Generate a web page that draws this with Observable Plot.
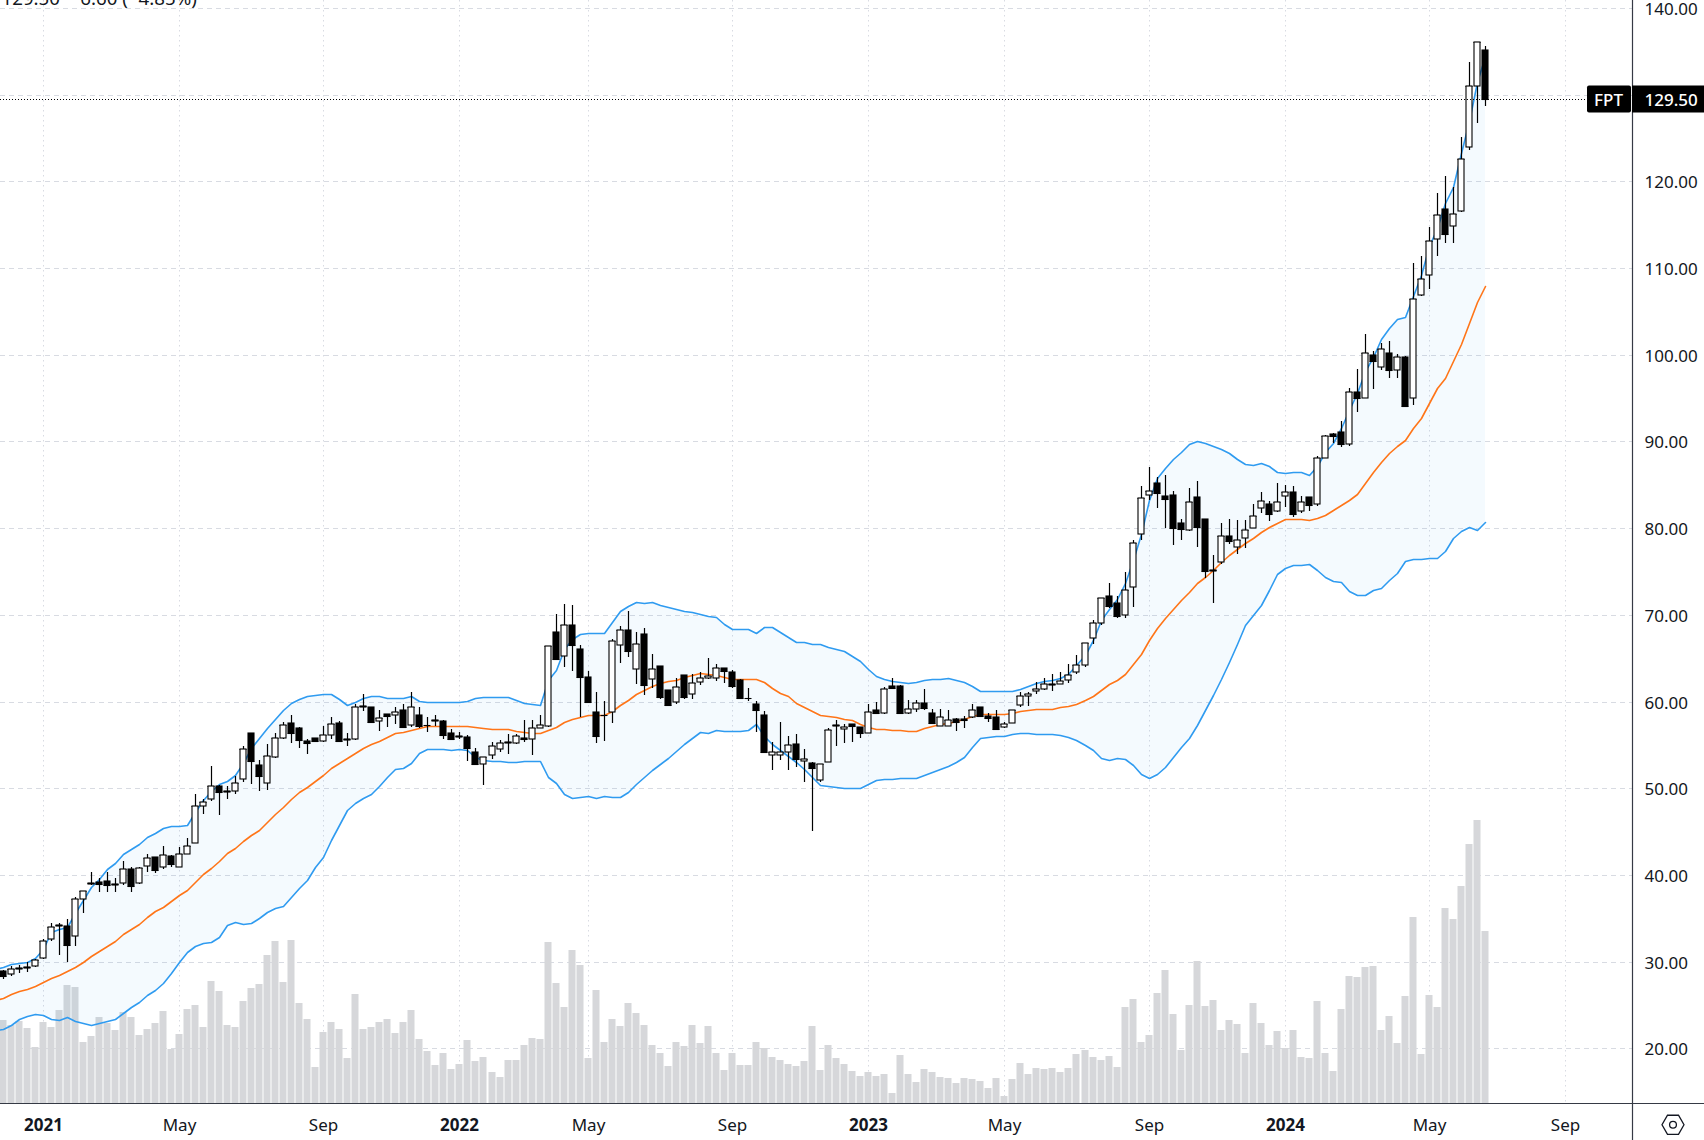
<!DOCTYPE html>
<html>
<head>
<meta charset="utf-8">
<script src="https://cdn.jsdelivr.net/npm/d3@7"></script>
<script src="https://cdn.jsdelivr.net/npm/@observablehq/plot@0.6"></script>
<style>html,body{margin:0;padding:0;background:#fff;overflow:hidden}</style>
</head>
<body>
<div id="chart"></div>
<script>
const open = [28.96,28.54,29.2,29.23,29.54,30.38,32.58,34.1,34.08,32.92,37.19,38.92,39.15,39.27,38.81,39.12,40.65,39.04,41.0,42.04,40.88,42.19,40.88,42.38,43.73,47.92,48.73,50.23,49.54,49.65,51.04,56.35,52.65,50.58,53.58,55.77,57.5,56.92,55.46,55.77,55.42,56.12,57.5,55.6,55.73,59.4,59.35,57.73,58.58,58.5,59.0,57.27,58.46,57.3,
57.73,57.8,56.42,55.9,55.88,54.23,52.85,53.88,54.58,55.25,55.27,55.85,55.73,57.0,57.19,68.0,65.27,68.88,66.04,62.88,58.85,58.4,58.85,66.58,68.31,63.81,67.85,62.62,64.15,61.38,60.0,63.12,60.92,62.31,62.77,62.77,63.85,63.46,62.46,60.38,59.77,58.42,53.88,53.88,54.19,55.08,53.19,52.88,51.0,53.04,57.2,56.88,57.46,57.04,
56.42,59.08,58.73,61.77,61.77,58.73,59.19,59.88,58.73,57.23,57.23,58.0,58.04,58.23,59.42,58.38,58.27,57.08,57.58,59.62,60.69,61.27,61.5,61.95,62.08,62.46,63.46,64.27,67.38,69.12,72.23,71.35,70.04,73.27,79.38,83.77,85.15,83.69,83.77,80.65,79.73,83.54,81.0,75.08,76.15,79.04,77.77,78.92,79.96,82.38,82.77,81.92,83.65,
84.17,82.02,83.55,82.76,88.08,90.85,91.05,89.65,95.75,95.01,99.96,98.56,100.21,98.23,99.71,95.01,106.85,109.2,113.36,116.83,114.85,116.54,124.0,130.97,135.09];
const close = [28.35,29.12,29.23,29.42,30.15,32.35,33.96,34.2,31.96,37.19,38.12,39.12,38.92,38.81,39.0,40.73,38.77,40.77,41.92,40.62,42.35,41.31,42.38,43.31,47.92,48.38,50.23,49.54,49.73,50.58,54.5,53.19,51.46,53.69,55.77,57.27,56.35,55.62,55.19,55.42,56.12,57.38,55.5,55.65,59.35,59.45,57.69,58.08,58.38,58.77,57.12,59.35,57.23,57.25,
57.85,56.15,55.7,56.0,54.65,52.81,53.62,54.92,55.27,55.3,56.08,55.7,56.96,57.35,66.46,64.92,68.88,66.54,62.85,59.96,56.04,58.45,67.04,68.31,65.85,66.69,61.88,63.81,60.54,59.62,61.69,60.54,62.19,62.77,62.96,63.88,63.54,61.77,60.42,60.42,59.04,54.19,54.23,54.23,55.04,53.42,53.42,52.35,52.85,56.77,57.25,57.12,57.19,56.38,
58.85,58.73,61.5,61.58,58.69,59.19,59.85,59.27,57.54,58.23,57.88,57.65,57.88,59.08,58.35,58.12,56.85,57.46,59.08,60.69,60.92,61.46,62.08,62.0,62.42,63.12,64.23,66.81,69.12,72.0,71.04,69.88,72.92,78.23,83.42,84.23,84.08,83.38,80.04,79.92,82.96,80.15,75.08,75.12,79.04,78.54,78.69,79.73,81.35,83.08,81.65,82.96,84.12,
81.65,83.05,82.72,88.08,90.6,90.64,89.65,95.67,95.01,100.21,99.22,100.66,98.23,99.71,94.06,106.43,108.74,113.11,116.12,113.9,116.25,122.6,130.97,136.08,129.5];
const high = [29.0,29.54,29.58,29.96,30.35,32.58,34.42,34.42,34.88,37.5,38.12,40.31,39.62,40.31,39.62,41.58,40.88,40.96,42.38,42.12,43.35,42.35,43.27,44.27,49.35,48.81,52.58,50.38,50.27,51.42,54.88,56.35,53.27,55.08,56.38,57.62,58.46,57.04,55.65,55.85,57.19,58.19,57.73,56.35,59.69,60.9,59.35,59.04,58.6,59.35,59.73,61.1,59.35,58.19,
58.42,57.92,56.88,56.46,56.12,54.69,53.62,55.38,55.62,56.31,56.31,57.85,57.92,58.42,66.46,70.08,71.23,71.12,66.5,63.5,61.08,60.04,67.19,68.77,70.5,68.0,68.54,65.46,64.15,61.38,62.77,63.12,63.23,63.46,65.08,64.38,63.85,63.62,62.58,61.54,60.12,58.88,55.38,57.62,56.0,56.31,54.5,53.04,52.85,57.0,57.92,57.38,57.46,57.1,
59.77,59.92,61.69,62.77,61.96,60.15,60.15,61.42,59.19,59.19,59.08,58.15,58.31,59.77,59.42,58.69,59.08,57.69,59.08,61.12,61.12,62.31,62.69,63.23,63.46,64.38,65.35,66.81,69.38,72.0,73.62,72.23,75.0,78.58,84.85,87.04,85.85,86.12,84.27,81.04,84.62,85.42,81.0,76.96,80.54,81.04,80.92,80.92,82.77,84.15,83.12,85.15,84.92,
84.83,83.67,83.55,88.29,90.76,91.01,92.33,96.2,98.39,102.43,100.37,101.4,101.61,100.08,99.88,110.6,111.42,114.76,118.6,120.62,119.34,125.15,133.77,136.08,135.55];
const low = [28.04,28.38,28.73,28.85,29.42,30.27,32.42,30.77,30.0,31.8,35.65,38.85,38.08,38.08,38.08,38.88,38.08,38.92,40.38,40.23,40.73,40.96,40.88,42.38,43.65,47.04,48.5,46.96,48.81,49.38,50.77,50.5,49.73,49.85,53.54,55.73,55.27,54.69,54.0,55.3,55.35,55.73,55.5,54.92,55.54,58.96,57.69,56.65,57.12,57.38,57.04,57.04,56.92,56.54,
57.15,55.7,55.7,55.7,53.12,52.81,50.38,53.38,54.19,53.96,55.15,55.35,53.85,56.96,57.08,64.92,63.96,63.54,58.23,59.96,55.23,55.46,57.54,64.42,65.12,62.04,60.77,61.54,60.27,59.62,59.73,60.31,60.31,61.88,62.62,62.35,62.19,61.62,60.42,60.12,56.5,54.19,52.12,53.23,52.12,52.46,50.73,45.08,50.73,53.04,54.88,55.23,55.35,55.85,
56.38,58.73,58.6,61.58,58.69,58.54,58.81,59.04,57.54,57.19,57.19,56.62,56.96,58.12,58.31,57.65,56.85,56.92,57.58,59.38,59.5,60.92,61.38,61.23,62.04,62.15,63.15,64.0,66.62,68.81,70.81,69.65,69.65,70.88,78.62,83.23,82.31,80.0,78.04,78.62,79.69,77.85,74.27,71.38,75.92,78.15,77.0,77.73,79.96,81.77,80.85,81.88,82.46,
81.32,81.77,81.94,82.52,88.08,89.86,89.36,89.44,93.44,95.01,96.04,98.23,97.28,97.28,94.06,94.15,106.76,107.55,111.38,112.87,112.87,116.45,123.63,126.72,128.62];
// volume bars, expressed on the price axis they are drawn against
const volume = [23.3,22.7,23.2,22.35,20.15,23.1,22.45,24.4,27.3,27.1,20.7,21.4,23.6,22.9,22.1,24.2,23.6,21.55,22.2,22.9,24.3,19.9,21.65,24.55,25.0,22.45,27.75,26.6,22.7,22.45,25.45,26.95,27.4,30.8,32.4,27.65,32.5,25.2,23.4,17.85,21.9,23.05,22.2,18.95,26.3,22.2,22.45,23.05,23.4,21.8,23.05,24.4,21.1,19.7,
18.15,19.5,17.65,18.2,20.95,18.5,19.05,17.25,16.75,18.7,18.7,20.45,21.25,21.05,32.25,27.6,24.75,31.3,29.6,18.95,26.8,20.7,23.45,22.65,25.2,24.05,22.75,20.35,19.45,17.95,20.8,20.25,22.75,20.6,22.55,19.45,17.55,19.45,18.15,18.05,20.7,20.1,19.05,18.7,18.25,17.95,18.6,22.65,17.55,20.35,18.85,18.25,
17.4,16.8,17.25,16.8,17.05,14.85,19.25,17.05,16.1,17.6,17.25,16.7,16.55,16.0,16.55,16.45,16.25,15.4,16.55,14.5,16.45,18.3,17.05,17.75,17.6,17.75,17.25,17.75,19.35,19.8,19.0,18.65,19.1,17.85,24.75,25.7,20.7,21.5,26.4,29.05,23.95,19.8,25.0,30.05,24.9,25.55,22.1,23.25,22.8,19.45,25.25,22.9,20.4,22.0,20.0,22.1,19.0,18.9,25.45,19.45,17.4,24.55,28.35,28.25,29.4,29.5,22.1,23.75,20.6,26.05,35.15,19.35,26.15,24.75,36.2,34.9,38.75,43.55,46.35,33.55];
// Bollinger bands; the first value belongs to the week before the first visible candle
const upper = [29.2,29.35,29.8,29.9,30.0,30.4,31.5,33.4,33.8,34.0,35.6,37.1,38.65,39.6,40.65,41.4,42.4,42.95,43.6,44.4,44.9,45.4,45.6,45.7,45.8,47.3,48.65,49.7,50.5,50.85,51.5,52.9,54.7,55.8,56.95,58.0,59.05,59.8,60.27,60.65,60.73,60.88,60.88,60.27,59.58,60.0,60.46,60.6,60.6,60.46,60.38,60.46,60.69,60.12,59.96,
59.92,59.92,59.92,59.96,60.08,60.46,60.54,60.54,60.54,60.54,60.23,59.81,59.73,59.65,62.46,63.62,66.12,67.27,67.77,67.92,67.92,67.92,69.19,70.42,71.0,71.54,71.42,71.46,71.15,70.92,70.73,70.5,70.35,70.15,69.85,69.77,69.0,68.42,68.38,68.38,67.96,68.62,68.62,68.04,67.46,66.88,66.88,66.69,66.62,66.31,66.04,65.85,65.27,64.69,
63.8,62.96,62.65,62.38,62.23,62.15,62.27,62.54,62.58,62.65,62.69,62.54,62.27,61.77,61.27,61.23,61.19,61.19,61.27,61.46,61.77,62.15,62.35,62.54,62.73,63.23,64.19,65.35,67.08,69.38,70.73,71.88,73.62,76.31,79.38,83.23,85.73,86.96,87.92,88.81,89.69,90.04,89.77,89.46,89.12,88.69,87.92,87.42,87.31,87.46,87.15,86.5,86.35,
86.43,86.43,86.15,87.17,88.83,89.86,91.5,93.57,95.63,98.1,99.75,101.81,103.05,104.08,104.29,106.76,109.24,112.54,114.6,117.48,119.34,123.26,126.97,131.5,134.39];
const middle = [25.6,25.85,26.25,26.65,26.9,27.25,27.65,28.1,28.5,28.9,29.35,30.0,30.65,31.25,31.85,32.4,33.15,33.8,34.4,35.15,35.8,36.35,36.95,37.7,38.3,39.25,40.1,40.85,41.6,42.5,43.15,43.95,44.65,45.25,46.15,47.0,47.8,48.75,49.55,50.2,50.9,51.55,52.3,52.95,53.55,54.1,54.7,55.1,55.5,55.95,56.35,56.5,56.75,56.95,57.2,
57.23,57.19,57.19,57.19,57.19,57.08,56.96,56.85,56.81,56.81,56.65,56.46,56.38,56.38,56.69,57.08,57.65,58.04,58.27,58.42,58.46,58.42,58.92,59.65,60.23,60.92,61.31,61.81,62.19,62.35,62.54,62.88,63.12,63.35,63.23,63.04,62.85,62.62,62.58,62.65,62.58,62.27,61.62,61.0,60.62,59.88,59.38,58.92,58.5,58.35,58.19,58.04,57.85,57.46,
57.08,56.85,56.81,56.77,56.69,56.65,56.65,57.0,57.19,57.38,57.54,57.77,58.04,58.31,58.54,58.54,58.58,58.62,58.73,58.92,59.04,59.15,59.15,59.15,59.35,59.5,59.77,60.15,60.65,61.31,62.0,62.54,63.23,64.31,65.54,67.08,68.54,69.69,70.73,71.69,72.65,73.62,74.31,75.15,76.12,76.88,77.65,78.31,78.88,79.5,80.08,80.62,81.0,
81.07,81.07,80.95,81.15,81.48,82.1,82.72,83.26,83.88,85.24,86.43,87.59,88.62,89.44,90.19,91.5,92.66,94.39,96.12,97.36,99.22,101.2,103.67,106.02,107.92];
const lower = [22.1,22.3,22.7,23.35,23.7,23.95,23.9,23.4,23.25,23.65,23.2,22.9,22.75,22.95,23.15,23.4,24.15,24.8,25.4,26.15,26.8,27.5,28.65,30.0,31.1,31.85,32.2,32.3,32.9,34.25,34.55,34.35,34.5,35.1,35.7,36.25,36.45,37.5,38.45,39.4,40.95,42.1,44.05,45.75,47.55,48.25,48.9,49.4,50.25,51.35,52.25,52.4,52.9,54.05,54.55,
54.58,54.5,54.42,54.5,54.46,53.62,53.23,53.19,53.12,53.04,53.08,53.12,53.15,53.19,51.31,50.65,49.38,48.88,49.0,49.08,48.92,49.12,49.04,48.96,49.54,50.46,51.31,52.08,52.85,53.54,54.27,55.08,55.81,56.5,56.42,56.73,56.65,56.62,56.62,56.69,57.38,56.0,55.15,54.46,53.73,53.04,52.27,51.31,50.38,50.27,50.15,50.08,50.04,50.08,
50.54,50.92,51.04,51.12,51.19,51.23,51.23,51.58,51.88,52.19,52.54,53.04,53.62,54.77,55.85,55.96,56.0,56.08,56.27,56.42,56.38,56.31,56.27,56.23,56.12,55.92,55.54,54.96,54.46,53.5,53.31,53.46,53.42,52.65,51.62,51.19,51.69,52.46,53.62,54.77,55.85,57.27,59.0,60.73,62.65,64.58,66.69,68.81,69.96,71.12,72.85,74.77,75.39,
75.7,75.73,75.81,75.2,74.35,73.89,73.77,72.73,72.31,72.27,72.89,73.12,73.97,74.81,76.23,76.39,76.43,76.54,76.58,77.35,78.81,79.7,80.16,79.73,80.7];
const monthLabels = ["May","Sep","May","Sep","May","Sep","May","Sep"];
const monthWeeks = [22,40,73,91,125,143,178,195];
const yearLabels = ["2021","2022","2023","2024"];
const yearWeeks = [5,57,108,160];
const priceTicks = [20,30,40,50,60,70,80,90,100,110,120,130,140];
const lastPrice = 129.5;
const symbolName = "FPT";
const headline = "129.50  −6.60 (−4.85%)";

const weeks = d3.range(186);
const bandWeeks = d3.range(-1,186);
const xEnd = 203.32, yTop = 140.9, yBase = 13.68;
const ink = "#131722", grid = "#d8dbe2", axisLine = "#363a45";
const labelFor = (ws, ls) => (w) => ls[ws.indexOf(w)];
const hexagon = {draw(ctx,size){const r=Math.sqrt(size/Math.PI),h=r*0.87,q=r*0.5;
  ctx.moveTo(r,0);ctx.lineTo(q,h);ctx.lineTo(-q,h);ctx.lineTo(-r,0);ctx.lineTo(-q,-h);ctx.lineTo(q,-h);ctx.closePath();}};
const font = "'Noto Sans', sans-serif";

const chart = Plot.plot({
  width:1704, height:1140,
  marginLeft:0, marginRight:72, marginTop:0, marginBottom:36.7,
  style:{background:"#fff",fontFamily:font,color:ink},
  x:{type:"linear",domain:[-1/3,xEnd],round:true,axis:null},
  y:{type:"linear",domain:[yTop,yBase],range:[0,1103.3],round:true,axis:null},
  marks:[
    Plot.ruleY(priceTicks,{stroke:grid,strokeWidth:1,strokeDasharray:"5,4"}),
    Plot.ruleX([...monthWeeks,...yearWeeks],{stroke:grid,strokeWidth:1,strokeDasharray:"1.5,3.5"}),
    Plot.rect(weeks,{x1:d=>d,x2:d=>d,y1:()=>yBase,y2:d=>volume[d],insetLeft:-3.5,insetRight:-3.5,fill:"#d6d7da"}),
    Plot.areaY(bandWeeks,{x:d=>d,y1:d=>lower[d+1],y2:d=>upper[d+1],fill:"#2196f3",fillOpacity:0.05,clip:true}),
    Plot.line(bandWeeks,{x:d=>d,y:d=>upper[d+1],stroke:"#2f9bf0",strokeWidth:1.6,clip:true}),
    Plot.line(bandWeeks,{x:d=>d,y:d=>lower[d+1],stroke:"#2f9bf0",strokeWidth:1.6,clip:true}),
    Plot.line(bandWeeks,{x:d=>d,y:d=>middle[d+1],stroke:"#ff7518",strokeWidth:1.6,clip:true}),
    Plot.ruleX(weeks,{x:d=>d,y1:d=>low[d],y2:d=>high[d],stroke:"#000",strokeWidth:1.2}),
    Plot.ruleY(weeks,{y:d=>close[d],x1:d=>d,x2:d=>d,insetLeft:-3.5,insetRight:-3.5,stroke:"#000",strokeWidth:1.1}),
    Plot.rect(weeks,{x1:d=>d,x2:d=>d,y1:d=>open[d],y2:d=>close[d],insetLeft:-3,insetRight:-3,
      fill:d=>close[d]>=open[d]?"#fff":"#000",stroke:"#000",strokeWidth:1.1}),
    Plot.ruleY([lastPrice],{x1:()=>-1/3,x2:()=>xEnd,insetRight:45,stroke:"#000",strokeWidth:1,strokeDasharray:"1,2"}),
    Plot.ruleY([0],{y:()=>yBase,x1:()=>-1/3,x2:()=>xEnd,insetRight:-72,stroke:axisLine,strokeWidth:1.2}),
    Plot.ruleX([xEnd],{y1:()=>yTop,y2:()=>yBase,insetBottom:-37,stroke:axisLine,strokeWidth:1.2}),
    Plot.axisY(priceTicks.filter(t=>t!==130),{anchor:"right",tickSize:0,tickPadding:12,dy:0.8,tickFormat:d=>d.toFixed(2),fontSize:17,fill:ink,label:null}),
    Plot.rect([lastPrice],{x1:()=>xEnd,x2:()=>xEnd,y1:d=>d,y2:d=>d,insetLeft:0,insetRight:-72,insetTop:-13.5,insetBottom:-13.5,fill:"#000"}),
    Plot.rect([lastPrice],{x1:()=>xEnd,x2:()=>xEnd,y1:d=>d,y2:d=>d,insetLeft:-45,insetRight:1,insetTop:-13.5,insetBottom:-13.5,rx:2,fill:"#000"}),
    Plot.text([lastPrice],{x:()=>xEnd,y:d=>d,text:d=>d.toFixed(2),dx:12,dy:0.8,textAnchor:"start",fill:"#fff",fontSize:17,fontWeight:500}),
    Plot.text([symbolName],{x:()=>xEnd,y:()=>lastPrice,text:d=>d,dx:-24,dy:0.8,textAnchor:"middle",fill:"#fff",fontSize:17,fontWeight:500}),
    Plot.axisX(monthWeeks,{anchor:"bottom",tickSize:0,tickPadding:15,tickFormat:labelFor(monthWeeks,monthLabels),fontSize:17,fill:ink,label:null}),
    Plot.axisX(yearWeeks,{anchor:"bottom",tickSize:0,tickPadding:15,tickFormat:labelFor(yearWeeks,yearLabels),fontSize:17,fontWeight:700,fill:ink,label:null}),
    Plot.text([headline],{frameAnchor:"top-left",text:d=>d,dx:1,dy:-9,textAnchor:"start",fontSize:18.7,fill:ink}),
    Plot.dot([0],{frameAnchor:"bottom-right",dx:40.5,dy:21,r:11,symbol:hexagon,stroke:ink,strokeWidth:1.3,fill:"none"}),
    Plot.dot([0],{frameAnchor:"bottom-right",dx:40.5,dy:21,r:3.4,stroke:ink,strokeWidth:1.3,fill:"none"})
  ]
});
document.getElementById("chart").append(chart);
</script>
</body>
</html>
